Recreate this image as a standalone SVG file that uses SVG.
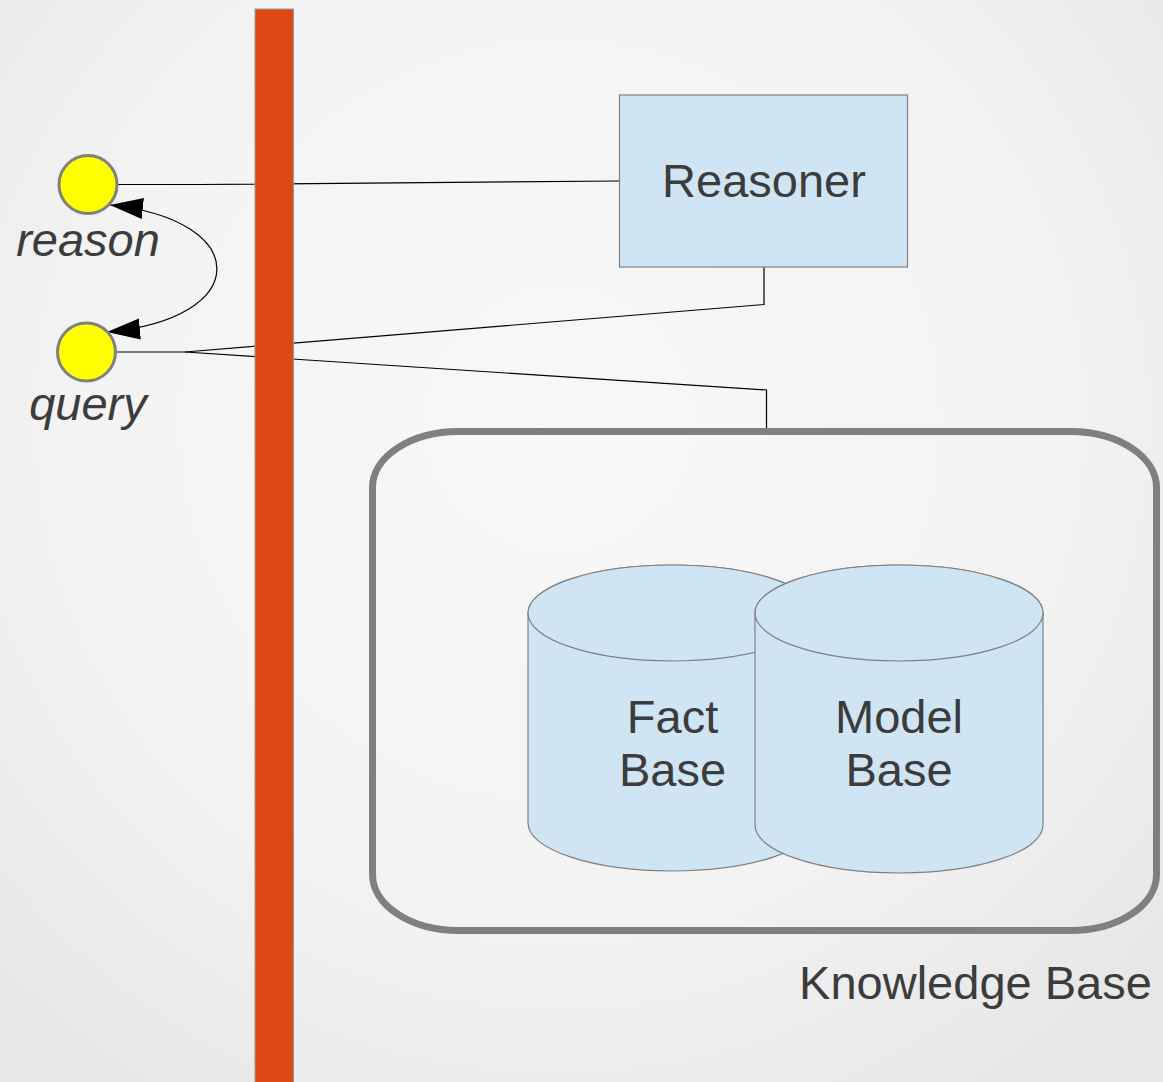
<svg xmlns="http://www.w3.org/2000/svg" width="1163" height="1082" viewBox="0 0 1163 1082">
  <defs>
    <radialGradient id="bg" cx="560" cy="420" r="820" gradientUnits="userSpaceOnUse">
      <stop offset="0" stop-color="#f8f8f8"/>
      <stop offset="0.6" stop-color="#f3f3f3"/>
      <stop offset="1" stop-color="#e6e6e6"/>
    </radialGradient>
    <marker id="arrow" markerUnits="userSpaceOnUse" markerWidth="34" markerHeight="22" refX="33" refY="10.5" orient="auto-start-reverse" viewBox="0 0 34 22">
      <path d="M0,0 L33,10.5 L0,21 z" fill="#000"/>
    </marker>
    <style>
      .lbl { font-family: "Liberation Sans", Arial, sans-serif; font-size: 47px; fill: #3c3c3c; text-anchor: middle; }
      .ital { font-style: italic; }
      .conn { fill: none; stroke: #000; stroke-width: 1.2; }
      .blue { fill: #cfe5f3; stroke: #808080; stroke-width: 1.2; }
      .port { fill: #ffff00; stroke: #808080; stroke-width: 3; }
    </style>
  </defs>
  <rect x="0" y="0" width="1163" height="1082" fill="url(#bg)"/>

  <g id="connectors">
    <polyline class="conn" points="117,184.5 200,184.5 619.5,181"/>
    <polyline class="conn" points="117,352 185,352 764,304.5 764,267"/>
    <polyline class="conn" points="185,352 766.5,390 766.5,431"/>
    <path class="conn" d="M110,205 C253,220 253,319 107,332" marker-start="url(#arrow)" marker-end="url(#arrow)"/>
  </g>

  <g id="bus">
    <rect x="255" y="9" width="38.5" height="1080" fill="#dd4814" stroke="#999" stroke-width="1"/>
  </g>

  <g id="reason">
    <circle class="port" cx="88" cy="184.5" r="29"/>
    <text class="lbl ital" x="88" y="256">reason</text>
  </g>

  <g id="query">
    <circle class="port" cx="86.5" cy="352" r="29"/>
    <text class="lbl ital" x="88" y="420">query</text>
  </g>

  <g id="reasoner">
    <rect class="blue" x="619.5" y="95" width="288" height="172"/>
    <text class="lbl" x="764" y="197">Reasoner</text>
  </g>

  <g id="knowledge-base">
    <rect x="372.5" y="431.5" width="784" height="499" rx="86" ry="56" fill="none" stroke="#808080" stroke-width="7"/>
    <text class="lbl" x="975.5" y="999">Knowledge Base</text>
  </g>

  <g id="fact-base">
    <path class="blue" d="M528,613 L528,823 A144,48 0 0 0 816,823 L816,613 A144,48 0 0 0 528,613 z"/>
    <ellipse class="blue" cx="672" cy="613" rx="144" ry="48"/>
    <text class="lbl" x="672.5" y="733">Fact</text>
    <text class="lbl" x="672.5" y="786">Base</text>
  </g>

  <g id="model-base">
    <path class="blue" d="M755,613 L755,825 A144,48 0 0 0 1043,825 L1043,613 A144,48 0 0 0 755,613 z"/>
    <ellipse class="blue" cx="899" cy="613" rx="144" ry="48"/>
    <text class="lbl" x="899" y="733">Model</text>
    <text class="lbl" x="899" y="786">Base</text>
  </g>
</svg>
